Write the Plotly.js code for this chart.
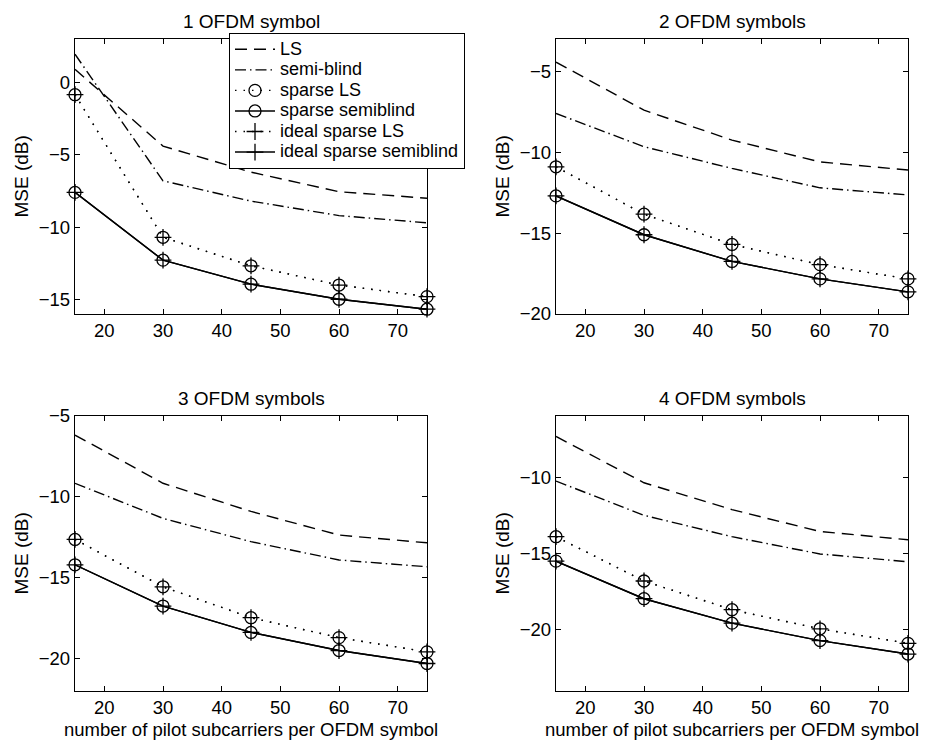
<!DOCTYPE html>
<html>
<head>
<meta charset="utf-8">
<script src="https://cdn.plot.ly/plotly-3.0.1.min.js"></script>
<style>
  html, body { margin: 0; padding: 0; background: #ffffff; }
  #chart { width: 925px; height: 745px; }
</style>
</head>
<body>
<div id="chart"></div>
<script>
// ---- data ----
const pilots = [15, 30, 45, 60, 75];
const seriesNames = ["LS", "semi-blind", "sparse LS", "sparse semiblind", "ideal sparse LS", "ideal sparse semiblind"];
const panelTitles = ["1 OFDM symbol", "2 OFDM symbols", "3 OFDM symbols", "4 OFDM symbols"];
const yLabel = "MSE (dB)";
const xLabel = "number of pilot subcarriers per OFDM symbol";

// 1 OFDM symbol
const ls1 = [0.9, -4.4, -6.2, -7.55, -8.0];
const semi1 = [1.95, -6.8, -8.2, -9.2, -9.7];
const sparseLS1 = [-0.85, -10.7, -12.67, -14.0, -14.8];
const sparseSemi1 = [-7.6, -12.28, -13.94, -14.98, -15.67];
const idealLS1 = [-0.85, -10.7, -12.67, -14.0, -14.8];
const idealSemi1 = [-7.6, -12.28, -13.94, -14.98, -15.67];

// 2 OFDM symbols
const ls2 = [-4.43, -7.4, -9.25, -10.6, -11.1];
const semi2 = [-7.6, -9.66, -11.0, -12.2, -12.64];
const sparseLS2 = [-10.9, -13.83, -15.7, -16.95, -17.83];
const sparseSemi2 = [-12.7, -15.1, -16.75, -17.83, -18.63];
const idealLS2 = [-10.9, -13.83, -15.7, -16.95, -17.83];
const idealSemi2 = [-12.7, -15.1, -16.75, -17.83, -18.63];

// 3 OFDM symbols
const ls3 = [-6.18, -9.16, -10.9, -12.36, -12.84];
const semi3 = [-9.16, -11.33, -12.77, -13.9, -14.32];
const sparseLS3 = [-12.63, -15.56, -17.47, -18.7, -19.58];
const sparseSemi3 = [-14.2, -16.75, -18.38, -19.5, -20.3];
const idealLS3 = [-12.63, -15.56, -17.47, -18.7, -19.58];
const idealSemi3 = [-14.2, -16.75, -18.38, -19.5, -20.3];

// 4 OFDM symbols
const ls4 = [-7.34, -10.37, -12.13, -13.56, -14.1];
const semi4 = [-10.26, -12.5, -13.9, -15.03, -15.54];
const sparseLS4 = [-13.9, -16.8, -18.68, -19.93, -20.88];
const sparseSemi4 = [-15.5, -17.96, -19.56, -20.7, -21.58];
const idealLS4 = [-13.9, -16.8, -18.68, -19.93, -20.88];
const idealSemi4 = [-15.5, -17.96, -19.56, -20.7, -21.58];

const panels = [
  [ls1, semi1, sparseLS1, sparseSemi1, idealLS1, idealSemi1],
  [ls2, semi2, sparseLS2, sparseSemi2, idealLS2, idealSemi2],
  [ls3, semi3, sparseLS3, sparseSemi3, idealLS3, idealSemi3],
  [ls4, semi4, sparseLS4, sparseSemi4, idealLS4, idealSemi4]
];
const yRanges = [[-16, 3], [-20, -3], [-22, -5], [-24, -6]];

// ---- styling ----
const FONT = "Liberation Sans, Arial, Helvetica, sans-serif";
const W = 925, H = 745;
const boxes = [ // pixel boxes [left, right, top, bottom]
  [75, 427, 39, 314],
  [556, 908, 39, 314],
  [75, 427, 416, 691],
  [556, 908, 416, 691]
];
const LW = 1.4;
const styles = [
  {mode: "lines", line: {dash: "12px,7px", width: LW}},
  {mode: "lines", line: {dash: "11px,4px,1.5px,4px", width: LW}},
  {mode: "lines+markers", line: {dash: "1.5px,7px", width: LW}, marker: {symbol: "circle-open", size: 12}},
  {mode: "lines+markers", line: {dash: "solid", width: LW}, marker: {symbol: "circle-open", size: 12}},
  {mode: "lines+markers", line: {dash: "1.5px,7px", width: LW}, marker: {symbol: "cross-thin-open", size: 12}},
  {mode: "lines+markers", line: {dash: "solid", width: LW}, marker: {symbol: "cross-thin-open", size: 12}}
];

const traces = [];
panels.forEach((p, i) => {
  const ax = i === 0 ? "" : String(i + 1);
  p.forEach((ys, k) => {
    const s = styles[k];
    const t = {
      x: pilots, y: ys, type: "scatter", mode: s.mode,
      name: '<span style="font-size:18px">' + seriesNames[k] + '</span>',
      showlegend: i === 0, legendgroup: seriesNames[k],
      xaxis: "x" + ax, yaxis: "y" + ax, cliponaxis: false,
      line: Object.assign({color: "#000"}, s.line)
    };
    if (s.marker) t.marker = Object.assign({color: "#000", line: {color: "#000", width: 1.3}}, s.marker);
    traces.push(t);
  });
});

const layout = {
  width: W, height: H,
  margin: {l: 0, r: 0, t: 0, b: 0, autoexpand: false},
  paper_bgcolor: "#fff", plot_bgcolor: "#fff",
  font: {family: FONT, size: 18, color: "#000"},
  showlegend: true,
  legend: {
    x: 229 / W, y: 1 - 33 / H, xanchor: "left", yanchor: "top",
    bgcolor: "#fff", bordercolor: "#000", borderwidth: 1,
    font: {family: FONT, size: 13.5, color: "#000"},
    itemwidth: 40,
    tracegroupgap: 0
  },
  annotations: []
};

boxes.forEach((b, i) => {
  const ax = i === 0 ? "" : String(i + 1);
  const common = {
    showline: true, linecolor: "#000", linewidth: 1.2, mirror: "ticks",
    ticks: "inside", ticklen: 5, tickcolor: "#000", tickwidth: 1,
    showgrid: false, zeroline: false, automargin: false,
    tickfont: {family: FONT, size: 18.5, color: "#000"}
  };
  layout["xaxis" + ax] = Object.assign({}, common, {
    domain: [b[0] / W, b[1] / W], range: [15, 75],
    tick0: 0, dtick: 10, anchor: "y" + ax
  });
  layout["yaxis" + ax] = Object.assign({}, common, {
    domain: [1 - b[3] / H, 1 - b[2] / H], range: yRanges[i],
    tick0: 0, dtick: 5, anchor: "x" + ax
  });
  const cx = (b[0] + b[1]) / 2;
  layout.annotations.push({
    text: panelTitles[i], xref: "paper", yref: "paper",
    x: cx / W, y: 1 - (b[2] - 18) / H, xanchor: "center", yanchor: "middle",
    showarrow: false, font: {family: FONT, size: 19, color: "#000"}
  });
  layout.annotations.push({
    text: yLabel, xref: "paper", yref: "paper", textangle: -90,
    x: (b[0] - 54) / W, y: 1 - ((b[2] + b[3]) / 2) / H, xanchor: "center", yanchor: "middle",
    showarrow: false, font: {family: FONT, size: 19, color: "#000"}
  });
  if (i >= 2) {
    layout.annotations.push({
      text: xLabel, xref: "paper", yref: "paper",
      x: cx / W, y: 1 - (b[3] + 38) / H, xanchor: "center", yanchor: "middle",
      showarrow: false, font: {family: FONT, size: 18.5, color: "#000"}
    });
  }
});

Plotly.newPlot("chart", traces, layout, {displayModeBar: false, staticPlot: true});
</script>
</body>
</html>
